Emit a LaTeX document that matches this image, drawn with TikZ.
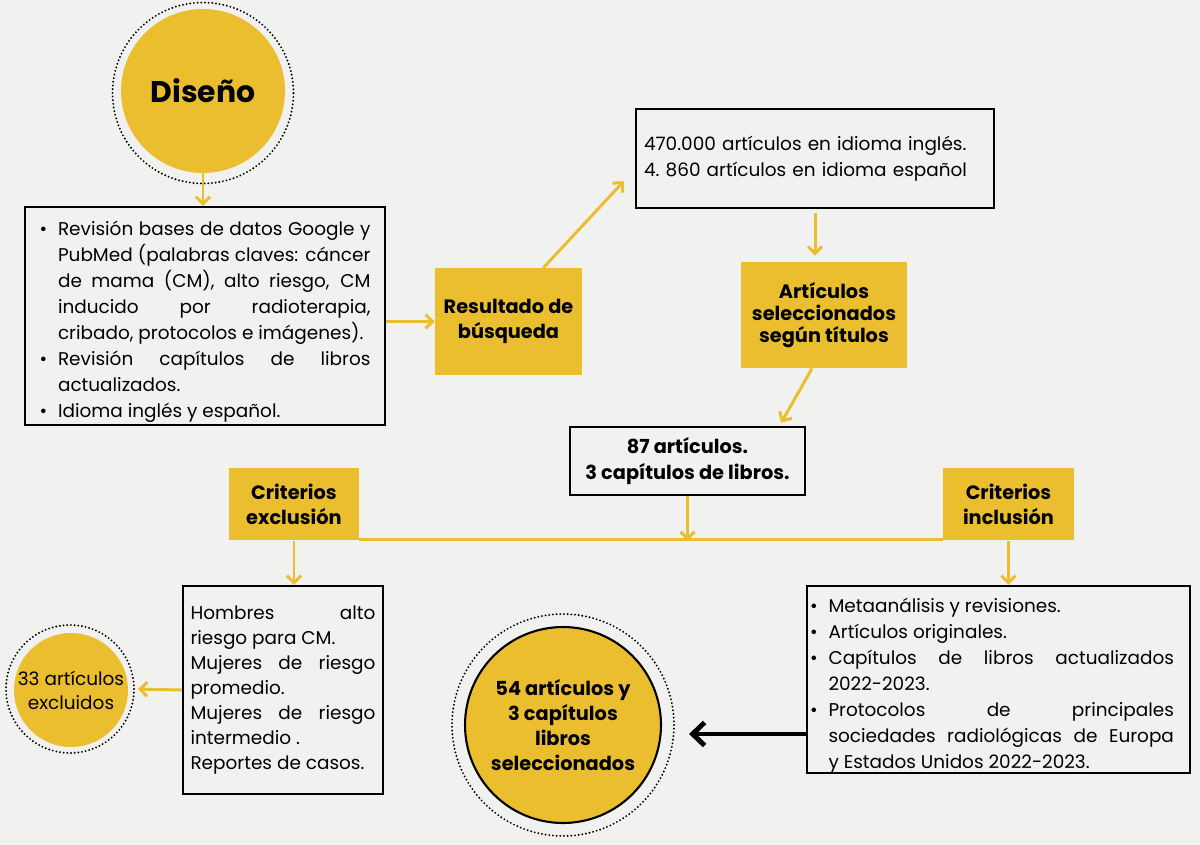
\documentclass[tikz,border=0pt]{standalone}
\usepackage{fontspec}
\setmainfont{Poppins}
\usetikzlibrary{arrows.meta}
\setlength{\parindent}{0pt}

\definecolor{fondo}{RGB}{241,241,239}
\definecolor{amarillo}{RGB}{235,190,48}

\begin{document}
\begin{tikzpicture}[x=0.02cm, y=-0.02cm,
	caja/.style={draw=black, line width=1.4pt, fill=fondo, inner sep=0pt, font=\fontsize{10.5}{14.8}\selectfont},
	etapa/.style={fill=amarillo, inner sep=0pt, align=center, font=\fontsize{11}{14.2}\selectfont\bfseries},
	aro/.style={circle, draw=black, line width=1.2pt, dash pattern=on 0pt off 2.1pt, line cap=round, inner sep=0pt},
	flecha/.style={draw=amarillo, line width=1.7pt, -{Straight Barb[length=0.14cm, width=0.28cm]}}]

	% \punto: bullet with hanging indent
	\def\punto{\par\noindent\hangindent=0.37cm\hangafter=1\makebox[0.37cm][l]{\textbullet}}

	% background
	\fill[fondo] (0,0) rectangle (1200,845);

	% diseño
	\node[aro, minimum size=3.62cm] (disenoaro) at (203,93) {};
	\node[circle, fill=amarillo, minimum size=3.28cm, font=\fontsize{17}{20}\selectfont\bfseries] (diseno) at (203,91) {Diseño};

	% boxes
	\node[caja, minimum width=7.2cm, minimum height=4.36cm, text width=6.62cm, align=justify] (revision) at (205,316) {
		\punto Revisión bases de datos Google y\linebreak PubMed (palabras claves: cáncer\linebreak de mama (CM), alto riesgo, CM\linebreak inducido por radioterapia,\linebreak cribado, protocolos e imágenes).
		\punto Revisión capítulos de libros\linebreak actualizados.
		\punto Idioma inglés y español.\par};
	\node[etapa, minimum width=2.94cm, minimum height=2.14cm] (resultado) at (508.5,321.5) {Resultado de\\búsqueda};
	\node[caja, minimum width=7.16cm, minimum height=1.98cm, text width=6.84cm, align=left] (hallados) at (815,158.5) {470.000 artículos en idioma inglés.\\4.\ 860 artículos en idioma español};
	\node[etapa, minimum width=3.32cm, minimum height=2.12cm, font=\fontsize{11}{12.6}\selectfont\bfseries] (titulos) at (824,315) {Artículos\\seleccionados\\según títulos};
	\node[caja, minimum width=4.7cm, minimum height=1.36cm, align=center, font=\fontsize{11}{14.7}\selectfont\bfseries] (elegidos) at (687.5,461) {87 artículos.\\3 capítulos de libros.};
	\node[etapa, minimum width=2.6cm, minimum height=1.46cm] (exclusion) at (294,504) {Criterios\\exclusión};
	\node[etapa, minimum width=2.62cm, minimum height=1.46cm] (inclusion) at (1008.5,504) {Criterios\\inclusión};
	\node[caja, minimum width=4cm, minimum height=4.16cm, text width=3.7cm, align=justify, font=\fontsize{10.5}{14.2}\selectfont] (excluyen) at (283,690) {Hombres alto\linebreak riesgo para CM.\par Mujeres de riesgo\linebreak promedio.\par Mujeres de riesgo\linebreak intermedio .\par Reportes de casos.\par};
	\node[caja, minimum width=7.66cm, minimum height=3.74cm, text width=7.54cm, align=justify] (incluyen) at (998.5,679.5) {\rightskip=0.26cm
		\punto Metaanálisis y revisiones.
		\punto Artículos originales.
		\punto Capítulos de libros actualizados\linebreak 2022-2023.
		\punto Protocolos de principales\linebreak sociedades radiológicas de Europa\linebreak y Estados Unidos 2022-2023.\par};

	% circles
	\node[aro, minimum size=2.56cm] (excluidosaro) at (70,689) {};
	\node[circle, fill=amarillo, minimum size=2.28cm, inner sep=0pt, align=center, font=\fontsize{10.5}{13.6}\selectfont] (excluidos) at (71,690) {33 artículos\\excluidos};
	\node[aro, minimum size=4.44cm] (seleccionadosaro) at (563,725) {};
	\node[circle, draw=black, line width=1.2pt, fill=amarillo, minimum size=3.92cm, inner sep=0pt, align=center, font=\fontsize{11}{14.4}\selectfont\bfseries] (seleccionados) at (563,725) {54 artículos y\\3 capítulos\\libros\\seleccionados};

	% connectors
	\coordinate (cruce) at (elegidos.south |- exclusion.south);
	\coordinate (salida) at ([yshift=-1.09cm]incluyen.west);
	\draw[flecha] (diseno.south) -- (diseno.south |- revision.north);
	\draw[flecha] (revision.east |- resultado.west) -- (resultado.west);
	\draw[flecha] (resultado.57) -- ([shift={(-0.22cm,0.56cm)}]hallados.south west);
	\draw[flecha, shorten <=0.08cm, shorten >=0.12cm] (hallados.south) -- (hallados.south |- titulos.north);
	\draw[flecha] ([xshift=-0.24cm]titulos.south) -- ([xshift=-0.5cm, yshift=0.06cm]elegidos.north east);
	\draw[amarillo, line width=1.9pt] ([yshift=0.03cm]exclusion.south east) -- ([yshift=0.03cm]inclusion.south west);
	\draw[flecha] (elegidos.south) -- (cruce);
	\draw[flecha] (exclusion.south) -- (exclusion.south |- excluyen.north);
	\draw[flecha] (inclusion.south) -- (inclusion.south |- incluyen.north);
	\draw[flecha, shorten >=0.06cm] (excluyen.west) -- (excluidosaro.east);
	\draw[line width=2.8pt, -{Straight Barb[length=0.24cm, width=0.46cm]}, shorten >=0.28cm] (salida) -- (salida -| seleccionadosaro.east);
\end{tikzpicture}
\end{document}
